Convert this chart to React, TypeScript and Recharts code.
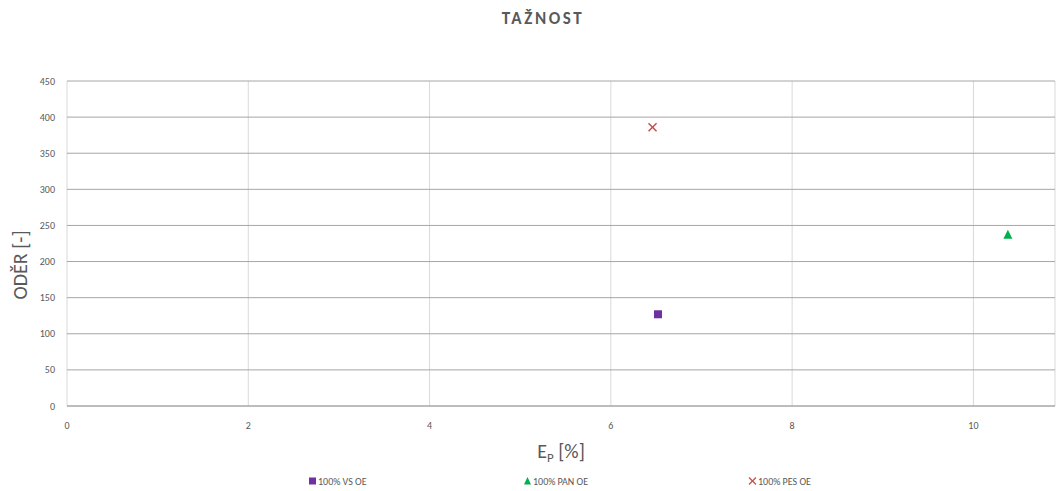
import { ScatterChart, Scatter, XAxis, YAxis, CartesianGrid } from 'recharts';

const seriesNames = ['100% VS OE', '100% PAN OE', '100% PES OE'];
const vsOe = [{ x: 6.52, y: 127 }];
const panOe = [{ x: 10.38, y: 237 }];
const pesOe = [{ x: 6.46, y: 386 }];
const xTicks = [0, 2, 4, 6, 8, 10];
const yTicks = [0, 50, 100, 150, 200, 250, 300, 350, 400, 450];

const COLORS = ['#7030a0', '#00b050', '#c0504d'];
const FONT = 'Carlito, Lato, "Open Sans", sans-serif';

const SquareShape = (props: any) => (
  <rect x={props.cx - 4} y={props.cy - 4} width={8} height={8} fill={COLORS[0]} />
);

const TriangleShape = (props: any) => (
  <polygon
    points={`${props.cx},${props.cy - 5} ${props.cx + 4.5},${props.cy + 4} ${props.cx - 4.5},${props.cy + 4}`}
    fill={COLORS[1]}
  />
);

const CrossShape = (props: any) => (
  <g stroke={COLORS[2]} strokeWidth={1.5}>
    <line x1={props.cx - 4} y1={props.cy - 4} x2={props.cx + 4} y2={props.cy + 4} />
    <line x1={props.cx - 4} y1={props.cy + 4} x2={props.cx + 4} y2={props.cy - 4} />
  </g>
);

const XLabel = (props: any) => {
  const { viewBox } = props;
  const cx = viewBox.x + viewBox.width / 2;
  return (
    <text x={cx} y={458} textAnchor="middle" fill="#595959" fontSize={20} fontFamily={FONT}>
      E<tspan fontSize={13} dy={4}>P</tspan>
      <tspan dy={-4}> [%]</tspan>
    </text>
  );
};

const YLabel = () => (
  <text
    x={27}
    y={265}
    transform="rotate(-90 27 265)"
    textAnchor="middle"
    fill="#595959"
    fontSize={20}
    fontFamily={FONT}
  >
    ODĚR [-]
  </text>
);

function LegendRow() {
  const items = [
    { x: 312, icon: <rect x={0} y={-3.5} width={7} height={7} fill={COLORS[0]} /> },
    { x: 527, icon: <polygon points="3.5,-4 7,3.5 0,3.5" fill={COLORS[1]} /> },
    {
      x: 752,
      icon: (
        <g stroke={COLORS[2]} strokeWidth={1.3}>
          <line x1={0} y1={-3.5} x2={7} y2={3.5} />
          <line x1={0} y1={3.5} x2={7} y2={-3.5} />
        </g>
      ),
    },
  ];
  return (
    <svg width={1056} height={20} style={{ position: 'absolute', left: 0, top: 472 }}>
      {items.map((it, i) => (
        <g key={seriesNames[i]} transform={`translate(${it.x - 3},9)`}>
          {it.icon}
          <text x={9} y={3.5} fontSize={10} fill="#595959" fontFamily={FONT}>
            {seriesNames[i]}
          </text>
        </g>
      ))}
    </svg>
  );
}

export default function App() {
  return (
    <div style={{ position: 'absolute', left: 0, top: 0, width: 1056, height: 491, background: '#fff' }}>
      <div
        style={{
          position: 'absolute',
          top: 8,
          left: 0,
          width: 1086,
          textAlign: 'center',
          fontFamily: FONT,
          fontWeight: 'bold',
          fontSize: 17,
          letterSpacing: 2.6,
          color: '#595959',
        }}
      >
        TAŽNOST
      </div>
      <ScatterChart width={1056} height={491} margin={{ top: 81, right: 1, bottom: 0, left: 0 }}>
        <CartesianGrid vertical horizontal={false} stroke="#d9d9d9" />
        <CartesianGrid vertical={false} horizontal stroke="#a6a6a6" />
        <XAxis
          type="number"
          dataKey="x"
          domain={[0, 10.9]}
          ticks={xTicks}
          allowDataOverflow
          tickLine={false}
          axisLine={{ stroke: '#a6a6a6' }}
          tick={{ fill: '#595959', fontSize: 10, fontFamily: FONT }}
          tickMargin={10}
          height={85}
          label={<XLabel />}
        />
        <YAxis
          type="number"
          dataKey="y"
          domain={[0, 450]}
          ticks={yTicks}
          tickLine={false}
          axisLine={false}
          tick={{ fill: '#595959', fontSize: 10, fontFamily: FONT }}
          tickMargin={6}
          width={67}
          label={<YLabel />}
        />
        <Scatter name={seriesNames[0]} data={vsOe} shape={SquareShape} isAnimationActive={false} />
        <Scatter name={seriesNames[1]} data={panOe} shape={TriangleShape} isAnimationActive={false} />
        <Scatter name={seriesNames[2]} data={pesOe} shape={CrossShape} isAnimationActive={false} />
      </ScatterChart>
      <LegendRow />
    </div>
  );
}
